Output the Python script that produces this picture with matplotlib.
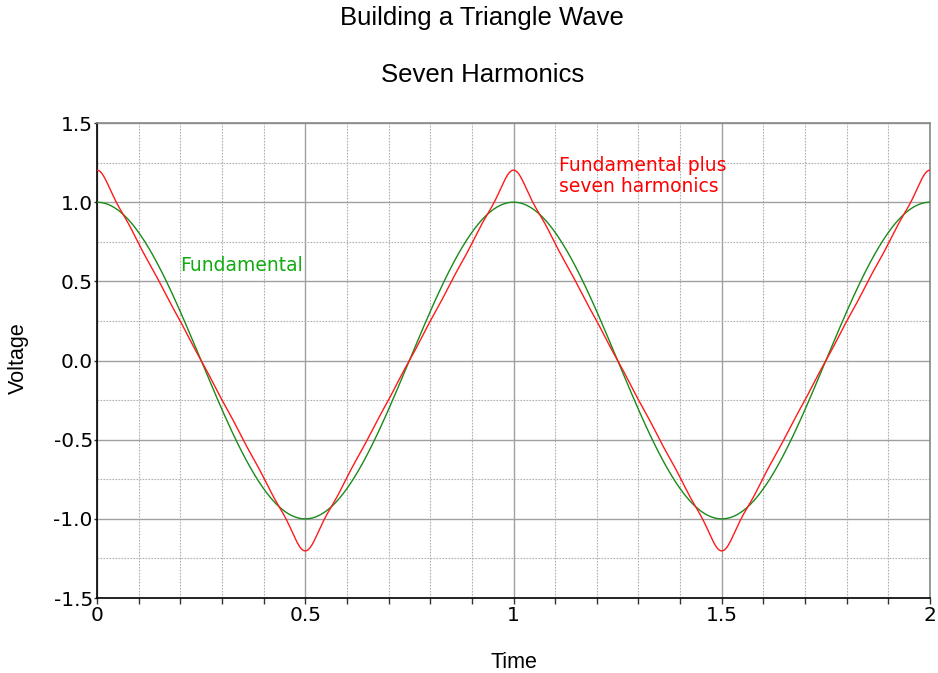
"""Triangle wave built from a fundamental plus seven odd harmonics."""

import numpy as np
import matplotlib
matplotlib.use("Agg")
import matplotlib.pyplot as plt
from matplotlib.ticker import MultipleLocator

# Harmonic content (odd harmonics of a triangle wave), amplitudes read as 1/n^2
harmonic_numbers = [1, 3, 5, 7, 9, 11, 13, 15]
harmonic_amplitudes = [1.0, 0.1111, 0.0400, 0.0204, 0.0123, 0.0083, 0.0059, 0.0044]
fundamental_amplitude = 1.0
period = 1.0

x_ticks = [0, 0.5, 1, 1.5, 2]
x_tick_labels = ["0", "0.5", "1", "1.5", "2"]
y_ticks = [-1.5, -1.0, -0.5, 0.0, 0.5, 1.0, 1.5]
y_tick_labels = ["-1.5", "-1.0", "-0.5", "0.0", "0.5", "1.0", "1.5"]

t = np.linspace(0, 2, 801)
fundamental = fundamental_amplitude * np.cos(2 * np.pi * t / period)
triangle = np.zeros_like(t)
for n, a in zip(harmonic_numbers, harmonic_amplitudes):
    triangle += a * np.cos(2 * np.pi * n * t / period)

fig = plt.figure(figsize=(9.38, 6.73), dpi=100)
ax = fig.add_axes([0.1034, 0.1114, 0.8881, 0.7058])

ax.plot(t, fundamental, color="#1a8a1a", linewidth=1.0, zorder=3)
ax.plot(t, triangle, color="#ff1a1a", linewidth=1.0, zorder=4)

ax.set_xlim(0, 2)
ax.set_ylim(-1.5, 1.5)
ax.set_xticks(x_ticks)
ax.set_xticklabels(x_tick_labels)
ax.set_yticks(y_ticks)
ax.set_yticklabels(y_tick_labels)
ax.xaxis.set_minor_locator(MultipleLocator(0.1))
ax.yaxis.set_minor_locator(MultipleLocator(0.25))

ax.grid(which="major", color="#a0a0a0", linewidth=1.0, linestyle="-")
ax.grid(which="minor", color="#b0b0b0", linewidth=0.8, linestyle=(0, (1.5, 1.2)))
ax.set_axisbelow(True)

ax.tick_params(axis="both", which="major", labelsize=14.5, length=4,
               width=1, color="#333333", pad=2)
ax.tick_params(axis="y", which="major", length=2, pad=1)
ax.tick_params(axis="x", which="minor", length=4, width=1, color="#333333")
ax.tick_params(axis="y", which="minor", length=0)
for lab in ax.get_xticklabels() + ax.get_yticklabels():
    lab.set_fontfamily("DejaVu Sans")

ax.spines["left"].set_color("black")
ax.spines["bottom"].set_color("black")
ax.spines["top"].set_color("#888888")
ax.spines["right"].set_color("#888888")
for s in ax.spines.values():
    s.set_linewidth(1.2)

ax.text(0.2, 0.6, "Fundamental", color="#11aa11", fontsize=13.5,
        family="DejaVu Sans", va="center", ha="left")
ax.text(1.11, 1.165, "Fundamental plus\nseven harmonics", color="#ff0000",
        fontsize=13.5, family="DejaVu Sans", va="center", ha="left",
        linespacing=1.1)

fig.text(0.514, 0.973, "Building a Triangle Wave", fontsize=18.5,
         family="Liberation Sans", ha="center", va="center")
fig.text(0.514, 0.889, "Seven Harmonics", fontsize=18.5,
         family="Liberation Sans", ha="center", va="center")
fig.text(0.548, 0.015, "Time", fontsize=15.5, family="Liberation Sans",
         ha="center", va="center")
fig.text(0.020, 0.468, "Voltage", fontsize=15.5, family="Liberation Sans",
         ha="center", va="center", rotation=90)

fig.savefig("out.png", dpi=100)
